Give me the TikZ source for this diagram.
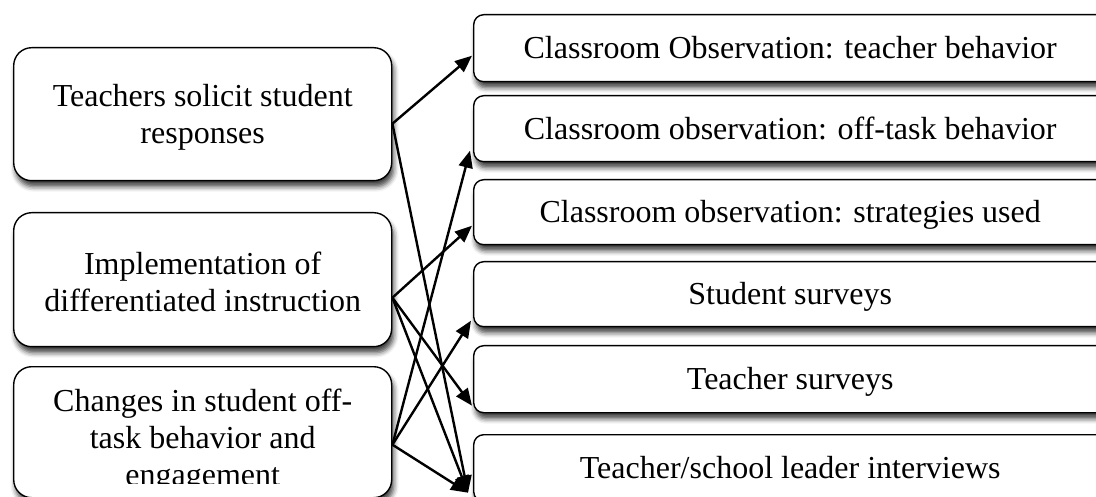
\documentclass[tikz,border=0pt]{standalone}
\usepackage{fontspec}
\setmainfont{Liberation Serif}
\usetikzlibrary{arrows.meta,calc,shadows.blur}
\begin{document}
\begin{tikzpicture}[x=1pt,y=-1pt,
  every node/.style={font=\fontsize{32}{37}\selectfont, inner sep=0pt},
  boxshadow/.style={blur shadow={shadow xshift=2pt, shadow yshift=-6pt,
      shadow blur radius=5pt, shadow opacity=75}},
  leftbox/.style={draw=black, line width=1.4pt, fill=white,
      rounded corners=18pt, boxshadow, anchor=north west,
      minimum width=378pt},
  rightbox/.style={draw=black, line width=1.4pt, fill=white,
      rounded corners=10pt, boxshadow, anchor=north west,
      minimum width=633pt, text height=21pt, text depth=0pt},
  link/.style={line width=2.4pt, -{Triangle[length=17pt,width=14pt]}}
]
\useasboundingbox (0,0) rectangle (1096,497);
\clip (0,0) rectangle (1096,497);

% concepts on the left
\node[leftbox, minimum height=133pt] (s1) at (13,47) {};
\node[leftbox, minimum height=134pt] (s2) at (13,212) {};
\node[leftbox, minimum height=131pt] (s3) at (13,366) {};

\node[align=center] (t1) at ($(s1.center)+(0,3.5)$) {Teachers solicit student\\responses};
\node[align=center] (t2) at ($(s2.center)+(0,2)$) {Implementation of\\differentiated instruction};
\begin{scope}
  \clip (s3.north west) rectangle ($(s3.south east)+(0,-15)$);
  \node[align=center] (t3) at ($(s3.center)+(0,8)$) {Changes in student off-\\task behavior and\\engagement};
\end{scope}

% data sources on the right
\node[rightbox, minimum height=67pt] (A) at (473,14)  {Classroom Observation: teacher behavior};
\node[rightbox, minimum height=66pt] (B) at (473,95)  {Classroom observation: off-task behavior};
\node[rightbox, minimum height=65pt] (C) at (473,179) {Classroom observation: strategies used};
\node[rightbox, minimum height=65pt] (D) at (473,261) {Student surveys};
\node[rightbox, minimum height=67pt] (E) at (473,345) {Teacher surveys};
\node[rightbox, minimum height=67pt] (F) at (473,434) {Teacher/school leader interviews};

% where the connectors leave and enter the boxes
\coordinate (o1) at ($(s1.east)+(0,9.5)$);
\coordinate (o2) at ($(s2.east)+(0,18)$);
\coordinate (o3) at ($(s3.east)+(0,12.5)$);
\coordinate (iA) at ($(A.west)+(-1,7.5)$);
\coordinate (iB) at ($(B.west)+(-3,22)$);
\coordinate (iC) at ($(C.west)+(-1,13.5)$);
\coordinate (iD) at ($(D.west)+(-2,26.5)$);
\coordinate (iE) at ($(E.west)+(-1,26.5)$);
\coordinate (iF) at ($(F.west)+(-5,24.5)$);

\draw[link] (o1) -- (iA);
\draw[link] (o1) -- (iF);
\draw[link] (o2) -- (iC);
\draw[link] (o2) -- (iE);
\draw[link] (o2) -- (iF);
\draw[link] (o3) -- (iB);
\draw[link] (o3) -- (iD);
\draw[link] (o3) -- (iF);
\end{tikzpicture}
\end{document}
